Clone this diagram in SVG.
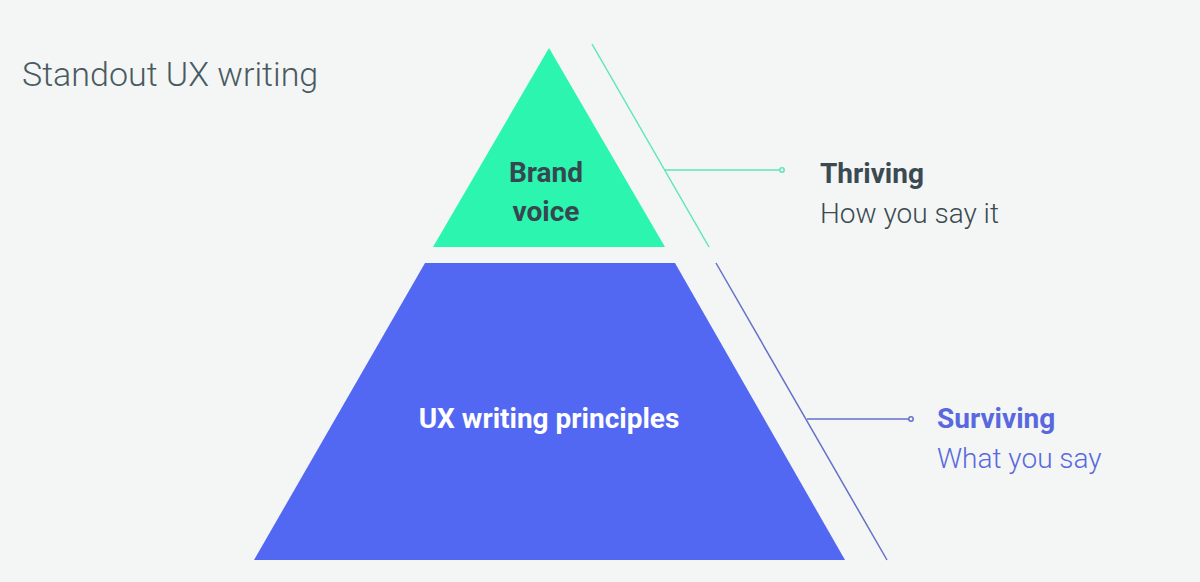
<svg xmlns="http://www.w3.org/2000/svg" width="1200" height="582" viewBox="0 0 1200 582">
<style>
text{font-family:Roboto,"Liberation Sans",sans-serif}
.title{font-size:34px;font-weight:300;fill:#4a5a62}
.in{font-size:28px;font-weight:700;text-anchor:middle}
.hd{font-size:28px;font-weight:700}
.sub{font-size:28px;font-weight:300}
</style>
<rect width="1200" height="582" fill="#f3f6f4"/>
<text class="title" x="22" y="86">Standout UX writing</text>
<g id="brand-voice">
<polygon points="549,48 665,247 433,247" fill="#2cf5b0"/>
<text class="in" x="546" y="182" fill="#37474f">Brand</text>
<text class="in" x="546" y="221" fill="#37474f">voice</text>
</g>
<g id="ux-principles">
<polygon points="425,263 675,263 845,560 254,560" fill="#5368f2"/>
<text class="in" x="549" y="428" fill="#ffffff">UX writing principles</text>
</g>
<g id="connectors" fill="none" stroke-width="1.5">
<g stroke="#5ee6b8">
<line x1="592" y1="44" x2="709" y2="247"/>
<line x1="664" y1="170" x2="780" y2="170"/>
<circle cx="782" cy="170" r="2.2"/>
</g>
<g stroke="#6470c8">
<line x1="716" y1="263" x2="887" y2="560"/>
<line x1="807" y1="419" x2="909" y2="419"/>
<circle cx="911" cy="419" r="2.2"/>
</g>
</g>
<g id="thriving">
<text class="hd" x="820" y="183" fill="#3b4a52">Thriving</text>
<text class="sub" x="820" y="223" fill="#3b4a52">How you say it</text>
</g>
<g id="surviving">
<text class="hd" x="937" y="428" fill="#5a68e0">Surviving</text>
<text class="sub" x="937" y="468" fill="#5a68e0">What you say</text>
</g>
</svg>
